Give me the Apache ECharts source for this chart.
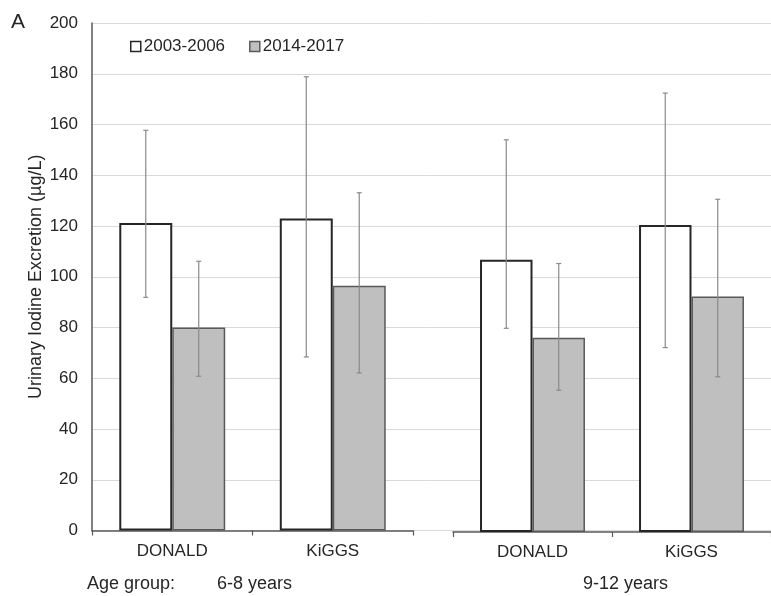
<!DOCTYPE html>
<html>
<head>
<meta charset="utf-8">
<script src="https://cdn.jsdelivr.net/npm/echarts@6/dist/echarts.min.js"></script>
<style>html,body{margin:0;padding:0;background:#fff;}#c{width:771px;height:596px;}</style>
</head>
<body>
<div id="c"></div>
<script>
const studies = ['DONALD', 'KiGGS'];
const periods = ['2003-2006', '2014-2017'];
const ageGroups = ['6-8 years', '9-12 years'];
const yTicks = [0, 20, 40, 60, 80, 100, 120, 140, 160, 180, 200];

// Age group 6-8 years
const mean6to8_p1 = [121.2, 123.0];
const mean6to8_p2 = [80.0, 96.5];
const low6to8_p1 = [91.9, 68.4];
const high6to8_p1 = [157.7, 178.8];
const low6to8_p2 = [60.8, 62.1];
const high6to8_p2 = [106.1, 133.1];

// Age group 9-12 years
const mean9to12_p1 = [107.2, 120.9];
const mean9to12_p2 = [76.5, 92.7];
const low9to12_p1 = [80.2, 72.6];
const high9to12_p1 = [154.4, 172.8];
const low9to12_p2 = [55.8, 61.1];
const high9to12_p2 = [105.7, 131.0];

const FONT = 'Liberation Sans, Arial, sans-serif';
const TXT = '#262626';
const CAT_GAP = 0.34;

function errSeries(lows, highs, sign, axisIdx) {
  return {
    type: 'custom',
    xAxisIndex: axisIdx, yAxisIndex: axisIdx,
    z: 5, silent: true,
    data: lows.map((l, i) => [i, l, highs[i]]),
    renderItem: function (params, api) {
      const i = api.value(0);
      const lo = api.coord([i, api.value(1)]);
      const hi = api.coord([i, api.value(2)]);
      const band = api.size([1, 0])[0];
      const bw = band * (1 - CAT_GAP) / 2;
      const x = lo[0] + sign * bw / 2;
      const st = { stroke: '#8a8a8a', lineWidth: 1.2 };
      const cap = 2.5;
      return { type: 'group', children: [
        { type: 'line', shape: { x1: x, y1: lo[1], x2: x, y2: hi[1] }, style: st },
        { type: 'line', shape: { x1: x - cap, y1: lo[1], x2: x + cap, y2: lo[1] }, style: st },
        { type: 'line', shape: { x1: x - cap, y1: hi[1], x2: x + cap, y2: hi[1] }, style: st }
      ]};
    }
  };
}

const p1Style = { color: '#ffffff', borderColor: '#262626', borderWidth: 2 };
const p2Style = { color: '#bfbfbf', borderColor: '#595959', borderWidth: 1.5 };

function barSeries(name, data, style, axisIdx) {
  return {
    name: name, type: 'bar', xAxisIndex: axisIdx, yAxisIndex: axisIdx,
    data: data, itemStyle: style, barGap: '0%', barCategoryGap: (CAT_GAP * 100) + '%',
    z: 3, emphasis: { disabled: true }
  };
}

function catAxis(gridIdx) {
  return {
    type: 'category', gridIndex: gridIdx, data: studies,
    axisLine: { lineStyle: { color: '#595959', width: 1.5 } },
    axisTick: { show: true, length: 5, lineStyle: { color: '#595959', width: 1.2 } },
    axisLabel: { color: TXT, fontFamily: FONT, fontSize: 17, margin: 12 }
  };
}

const option = {
  animation: false,
  backgroundColor: '#ffffff',
  textStyle: { fontFamily: FONT },
  legend: {
    data: periods, left: 130, top: 38, padding: 0, icon: 'rect', itemWidth: 10, itemHeight: 10,
    itemGap: 24, itemStyle: { borderWidth: 1.5 },
    textStyle: { color: TXT, fontFamily: FONT, fontSize: 17, padding: [0, 0, 0, -2] },
    selectedMode: false
  },
  grid: [
    { left: 92, right: 0, top: 23, bottom: 65.5 },
    { left: 92, width: 321, top: 23, bottom: 65.5 },
    { left: 453, width: 324, top: 24, bottom: 64 }
  ],
  xAxis: [
    { type: 'value', gridIndex: 0, show: false, min: 0, max: 1 },
    catAxis(1),
    catAxis(2)
  ],
  yAxis: [
    { type: 'value', gridIndex: 0, min: yTicks[0], max: yTicks[yTicks.length - 1], interval: 20,
      axisLine: { show: false }, axisTick: { show: false }, axisLabel: { show: false },
      splitLine: { lineStyle: { color: '#d9d9d9', width: 1 } } },
    { type: 'value', gridIndex: 1, min: yTicks[0], max: yTicks[yTicks.length - 1], interval: 20,
      name: 'Urinary Iodine Excretion (µg/L)', nameLocation: 'middle', nameGap: 47,
      nameTextStyle: { color: TXT, fontFamily: FONT, fontSize: 18 },
      axisLine: { show: true, lineStyle: { color: '#595959', width: 1.5 } },
      axisTick: { show: false },
      axisLabel: { color: TXT, fontFamily: FONT, fontSize: 17, margin: 14 },
      splitLine: { show: false } },
    { type: 'value', gridIndex: 2, min: yTicks[0], max: yTicks[yTicks.length - 1], interval: 20,
      axisLine: { show: false }, axisTick: { show: false }, axisLabel: { show: false },
      splitLine: { show: false } }
  ],
  graphic: [
    { type: 'text', left: 11, top: 12, style: { text: 'A', fontSize: 21, fontFamily: FONT, fill: TXT } },
    { type: 'text', left: 87, top: 575, style: { text: 'Age group:', fontSize: 18, fontFamily: FONT, fill: TXT } },
    { type: 'text', left: 217, top: 575, style: { text: ageGroups[0], fontSize: 18, fontFamily: FONT, fill: TXT } },
    { type: 'text', left: 583, top: 575, style: { text: ageGroups[1], fontSize: 18, fontFamily: FONT, fill: TXT } }
  ],
  series: [
    barSeries(periods[0], mean6to8_p1, p1Style, 1),
    barSeries(periods[1], mean6to8_p2, p2Style, 1),
    barSeries(periods[0], mean9to12_p1, p1Style, 2),
    barSeries(periods[1], mean9to12_p2, p2Style, 2),
    errSeries(low6to8_p1, high6to8_p1, -1, 1),
    errSeries(low6to8_p2, high6to8_p2, 1, 1),
    errSeries(low9to12_p1, high9to12_p1, -1, 2),
    errSeries(low9to12_p2, high9to12_p2, 1, 2)
  ]
};

const chart = echarts.init(document.getElementById('c'), null, { renderer: 'canvas' });
chart.setOption(option);
</script>
</body>
</html>
